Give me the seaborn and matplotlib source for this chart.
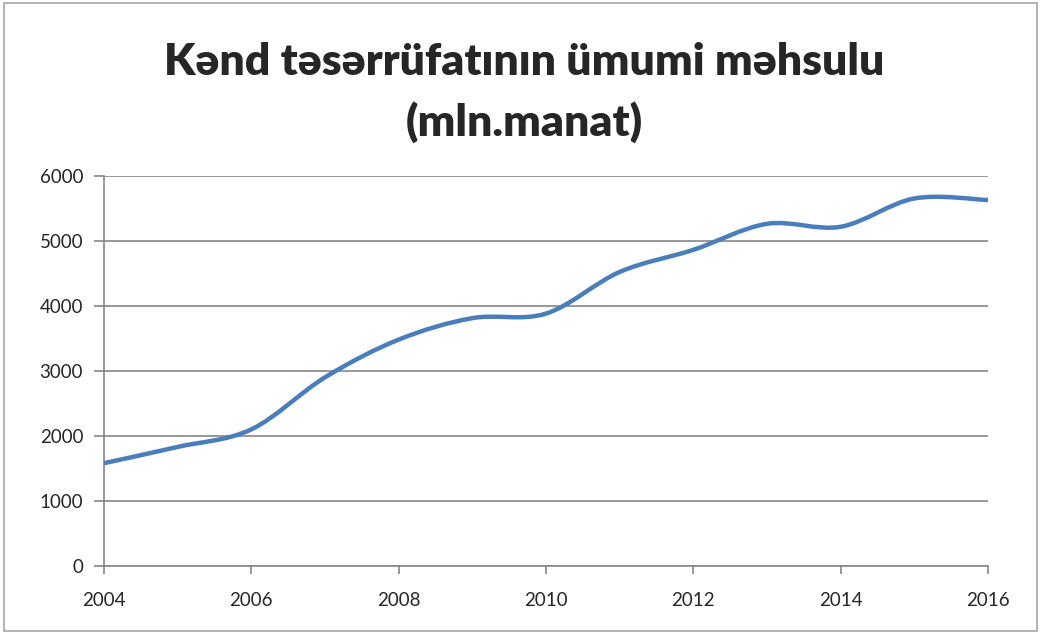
import matplotlib
matplotlib.use("Agg")
import matplotlib.pyplot as plt
from matplotlib.path import Path
from matplotlib.patches import PathPatch, Rectangle
import seaborn as sns

# values
years = [2004, 2005, 2006, 2007, 2008, 2009, 2010, 2011, 2012, 2013, 2014, 2015, 2016]
output = [1580, 1830, 2100, 2900, 3480, 3810, 3880, 4520, 4860, 5260, 5215, 5650, 5625]
title_line1 = "Kənd təsərrüfatının ümumi məhsulu"
title_line2 = "(mln.manat)"
x_ticks = [2004, 2006, 2008, 2010, 2012, 2014, 2016]
y_ticks = [0, 1000, 2000, 3000, 4000, 5000, 6000]

line_color = "#4A7EBB"
grid_color = "#868686"

sns.set_style("white")
plt.rcParams["font.family"] = ["Lato", "DejaVu Sans"]


def smooth_path(xs, ys):
    # Excel style smoothed line: cubic bezier through every point
    pts = list(zip(xs, ys))
    n = len(pts)
    verts = [pts[0]]
    codes = [Path.MOVETO]
    for i in range(n - 1):
        p0 = pts[i - 1] if i > 0 else pts[i]
        p1 = pts[i]
        p2 = pts[i + 1]
        p3 = pts[i + 2] if i + 2 < n else pts[i + 1]
        c1 = (p1[0] + (p2[0] - p0[0]) / 6, p1[1] + (p2[1] - p0[1]) / 6)
        c2 = (p2[0] - (p3[0] - p1[0]) / 6, p2[1] - (p3[1] - p1[1]) / 6)
        verts += [c1, c2, p2]
        codes += [Path.CURVE4] * 3
    return Path(verts, codes)


fig = plt.figure(figsize=(10.41, 6.34), dpi=100)
ax = fig.add_axes([0.0999, 0.1073, 0.8492, 0.6156])

sns.lineplot(x=years, y=output, ax=ax, color=line_color, linewidth=3.2)
line = ax.lines[0]
line.set_visible(False)
ax.add_patch(PathPatch(smooth_path(line.get_xdata(), line.get_ydata()),
                       facecolor="none", edgecolor=line_color, lw=3.2,
                       capstyle="butt", zorder=3))

ax.set_xlim(2004, 2016)
ax.set_ylim(0, 6000)
ax.set_xticks(x_ticks)
ax.set_yticks(y_ticks)
ax.set_xlabel("")
ax.set_ylabel("")
ax.grid(axis="y", color=grid_color, lw=1.2)
ax.set_axisbelow(True)
for side in ["top", "right"]:
    ax.spines[side].set_visible(False)
for side in ["left", "bottom"]:
    ax.spines[side].set_color(grid_color)
    ax.spines[side].set_linewidth(1.2)
ax.tick_params(axis="y", direction="out", length=7, width=1.2, color=grid_color,
               pad=8, labelsize=13.5, left=True)
ax.tick_params(axis="x", direction="out", length=6, width=1.2, color=grid_color,
               pad=13, labelsize=13.5, bottom=True)

fig.text(0.504, 0.902, title_line1, ha="center", va="center",
         fontsize=32, fontweight="heavy")
fig.text(0.504, 0.808, title_line2, ha="center", va="center",
         fontsize=32, fontweight="heavy")

fig.patches.append(Rectangle((0.004, 0.004), 0.992, 0.992, transform=fig.transFigure,
                             fill=False, edgecolor="#a6a6a6", lw=1.2))

fig.savefig("out.png", dpi=100)
